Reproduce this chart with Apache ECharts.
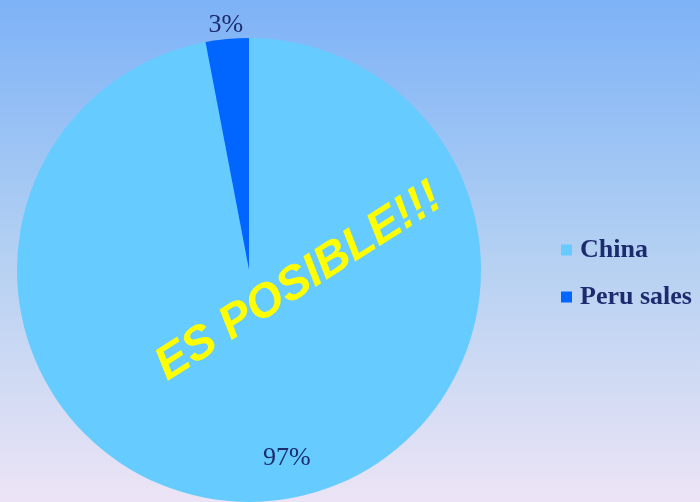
<!DOCTYPE html>
<html>
<head>
<meta charset="utf-8">
<script src="https://cdn.jsdelivr.net/npm/echarts@6/dist/echarts.min.js"></script>
<style>
  html, body { margin: 0; padding: 0; }
  #chart { width: 700px; height: 502px; }
</style>
</head>
<body>
<div id="chart"></div>
<script>
// Market share data
const categories = ['China', 'Peru sales'];
const shares = [97, 3];
const sliceColors = ['#66ccff', '#0066ff'];
const slogan = 'ES POSIBLE!!!';

const labelColor = '#1c2b6e';
const serif = '"Liberation Serif", "DejaVu Serif", serif';
const center = [249, 270];
const R = 232;

const chart = echarts.init(document.getElementById('chart'), null, { renderer: 'canvas' });

const pieData = categories.map((name, i) => ({
  name,
  value: shares[i],
  itemStyle: { color: sliceColors[i] }
}));

// Label-only ring: shows the label for one slice at the ring's middle radius
function labelRing(radius, showIndex, extraLabel) {
  return {
    type: 'pie',
    center,
    radius,
    startAngle: 90,
    clockwise: true,
    silent: true,
    legendHoverLink: false,
    avoidLabelOverlap: false,
    emphasis: { disabled: true },
    itemStyle: { color: 'rgba(0,0,0,0)', borderWidth: 0 },
    labelLine: { show: false },
    data: categories.map((name, i) => ({
      name,
      value: shares[i],
      itemStyle: { color: 'rgba(0,0,0,0)' },
      label: Object.assign({
        show: i === showIndex,
        position: 'inside',
        formatter: '{c}%',
        color: labelColor,
        fontFamily: serif,
        fontSize: 26
      }, i === showIndex ? extraLabel : {})
    }))
  };
}

chart.setOption({
  backgroundColor: {
    type: 'linear', x: 0, y: 0, x2: 0, y2: 1,
    colorStops: [
      { offset: 0, color: '#7db2f7' },
      { offset: 0.5, color: '#b3d0f2' },
      { offset: 1, color: '#ece4f5' }
    ]
  },
  animation: false,
  legend: {
    orient: 'vertical',
    left: 556,
    top: 232,
    itemWidth: 11,
    itemHeight: 11,
    itemGap: 21,
    icon: 'rect',
    data: categories,
    textStyle: {
      color: labelColor,
      fontFamily: serif,
      fontWeight: 'bold',
      fontSize: 26,
      padding: [0, 0, 0, 3]
    }
  },
  series: [
    {
      type: 'pie',
      center,
      radius: [0, R],
      startAngle: 90,
      clockwise: true,
      avoidLabelOverlap: false,
      emphasis: { scale: false },
      itemStyle: { borderWidth: 0 },
      label: { show: false },
      labelLine: { show: false },
      data: pieData
    },
    labelRing([140, R], 0, { padding: [0, 0, 0, 40] }),
    labelRing([R, R + 22], 1, {})
  ],
  graphic: [
    {
      type: 'text',
      z: 100,
      x: 299,
      y: 282,
      rotation: 32.5 * Math.PI / 180,
      style: {
        text: slogan,
        fill: '#ffff00',
        font: 'italic bold 47px "Liberation Sans", Arial, sans-serif',
        align: 'center',
        verticalAlign: 'middle',
        shadowColor: '#000000',
        shadowOffsetX: 3,
        shadowOffsetY: 2,
        shadowBlur: 1
      }
    }
  ]
});
</script>
</body>
</html>
